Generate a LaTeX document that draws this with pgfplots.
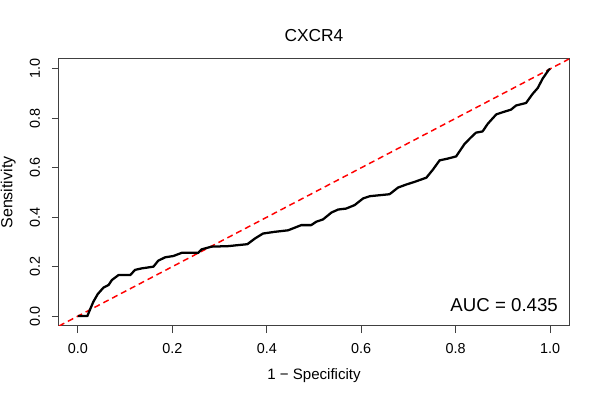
\documentclass[border=0pt]{standalone}
\usepackage{fontspec}
\setmainfont{Liberation Sans}
\usepackage{pgfplots}
\pgfplotsset{compat=1.18}
\begin{document}
\begin{tikzpicture}
\useasboundingbox (0,0) rectangle (450pt,300pt);
\begin{axis}[
    at={(44.25pt,55.5pt)}, anchor=south west,
    scale only axis, width=382.5pt, height=200.25pt,
    xmin=-0.04, xmax=1.04, ymin=-0.04, ymax=1.04,
    xtick={0,0.2,0.4,0.6,0.8,1}, ytick={0,0.2,0.4,0.6,0.8,1},
    xtick pos=bottom, ytick pos=left,
    tick align=outside, major tick length=5.25pt,
    axis line style={black!75, line width=0.75pt},
    tick style={black!75, line width=0.75pt},
    /pgf/number format/.cd, fixed, fixed zerofill, precision=1, assume math mode=true, /pgfplots/.cd,
    ticklabel style={font=\fontsize{10.8}{13}\selectfont, inner sep=0pt},
    xticklabel shift=7.5pt,
    yticklabel shift=8.75pt,
    xticklabel style={anchor=north},
    yticklabel style={rotate=90, anchor=south},
    title={CXCR4},
    title style={font=\fontsize{13}{15}\selectfont, at={(axis description cs:0.5,1.0374)}, anchor=base, inner sep=0pt},
    xlabel={1 − Specificity},
    xlabel style={font=\fontsize{11.3}{13}\selectfont, at={(axis description cs:0.5,-0.1873)}, anchor=center},
    ylabel={Sensitivity},
    ylabel style={font=\fontsize{12}{14}\selectfont, at={(axis description cs:-0.0993,0.5)}, anchor=center, rotate=0},
    clip=true,
]
\addplot[red, line width=1.1pt, dash pattern=on 4.5pt off 3pt] coordinates {(-0.04,-0.04) (1.04,1.04)};
\addplot[black, line width=1.7pt, line join=round] coordinates {
(0,0) (0.020,0) (0.026,0.028) (0.033,0.059) (0.042,0.089) (0.054,0.115)
(0.065,0.126) (0.072,0.146) (0.086,0.166) (0.111,0.166) (0.121,0.187)
(0.135,0.193) (0.160,0.200) (0.170,0.224) (0.185,0.238) (0.202,0.243)
(0.220,0.256) (0.255,0.256) (0.262,0.270) (0.283,0.281) (0.318,0.283)
(0.359,0.291) (0.375,0.314) (0.392,0.334) (0.417,0.341) (0.445,0.347)
(0.473,0.368) (0.494,0.368) (0.505,0.382) (0.519,0.391) (0.537,0.419)
(0.551,0.431) (0.568,0.435) (0.586,0.449) (0.604,0.476) (0.618,0.485)
(0.660,0.493) (0.678,0.520) (0.695,0.532) (0.713,0.543) (0.738,0.560)
(0.752,0.593) (0.766,0.630) (0.783,0.637) (0.801,0.646) (0.819,0.697)
(0.833,0.724) (0.843,0.742) (0.857,0.747) (0.868,0.778) (0.886,0.816)
(0.900,0.825) (0.917,0.835) (0.928,0.852) (0.949,0.862) (0.963,0.899)
(0.974,0.923) (0.984,0.960) (0.997,0.996) (1,1)
};
\node[anchor=base east, font=\fontsize{14}{16}\selectfont, inner sep=0pt] at (axis cs:1.017,0.019) {AUC = 0.435};
\end{axis}
\end{tikzpicture}
\end{document}
